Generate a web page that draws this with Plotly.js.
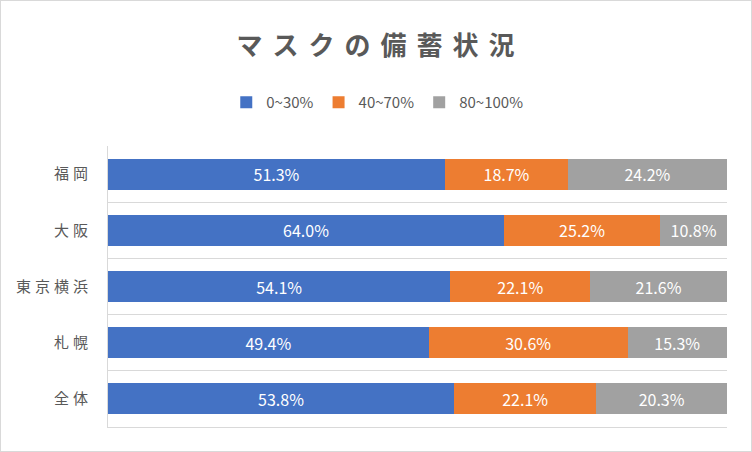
<!DOCTYPE html>
<html>
<head>
<meta charset="utf-8">
<script src="https://cdn.plot.ly/plotly-3.0.1.min.js"></script>
<style>
  body { margin: 0; background: #fff; }
  #chart { width: 750px; height: 450px; border: 1px solid #d9d9d9; }
  #chart .gtitle { letter-spacing: 10px; }
  #chart .ytick text { letter-spacing: 4px; }
</style>
</head>
<body>
<div id="chart"></div>
<script>
var cities = ['福岡', '大阪', '東京横浜', '札幌', '全体'];
var low = [51.3, 64.0, 54.1, 49.4, 53.8];
var mid = [18.7, 25.2, 22.1, 30.6, 22.1];
var high = [24.2, 10.8, 21.6, 15.3, 20.3];

var jp = '"Noto Sans CJK JP", "Noto Sans", sans-serif';

function makeTrace(aName, aValues, aColor, aPattern){
    var trace = {
        name: aName,
        y: cities,
        x: aValues,
        type: 'bar',
        orientation: 'h',
        text: aValues.map(function(v){ return v.toFixed(1) + '%'; }),
        textposition: 'inside',
        insidetextanchor: 'middle',
        textangle: 0,
        textfont: {color: '#ffffff', size: 16, family: jp},
        hoverinfo: 'skip',
        marker: {color: aColor, line: {width: 0}}
    };
    if (aPattern) {
        trace.marker.pattern = {shape: '.', fgcolor: '#959595', bgcolor: '#ababab', size: 2, solidity: 0.5};
    }
    return trace;
}

var data = [
    makeTrace('0~30%', low, '#4472C4', false),
    makeTrace('40~70%', mid, '#ED7D31', false),
    makeTrace('80~100%', high, '#A5A5A5', true)
];

var layout = {
    width: 750,
    height: 450,
    margin: {l: 107, r: 24, t: 145, b: 24},
    barmode: 'stack',
    barnorm: 'percent',
    bargap: 0.45,
    paper_bgcolor: '#ffffff',
    plot_bgcolor: '#ffffff',
    font: {family: jp, color: '#595959'},
    title: {
        text: '<b>マスクの備蓄状況</b>',
        font: {size: 26, color: '#595959', family: jp},
        x: 0.506, xanchor: 'center',
        y: 0.9, yanchor: 'middle'
    },
    showlegend: true,
    legend: {
        orientation: 'h',
        x: 0.435, xanchor: 'center',
        y: 1.155, yanchor: 'middle',
        font: {size: 15, color: '#595959', family: jp},
        traceorder: 'normal',
        itemwidth: 30
    },
    xaxis: {
        range: [0, 100],
        showgrid: false,
        zeroline: false,
        showticklabels: false,
        showline: true,
        linecolor: '#d9d9d9',
        side: 'bottom',
        fixedrange: true
    },
    yaxis: {
        autorange: 'reversed',
        tickson: 'boundaries',
        showgrid: true,
        gridcolor: '#d9d9d9',
        gridwidth: 1,
        ticks: '',
        showline: true,
        linecolor: '#d9d9d9',
        ticklabelstandoff: 12,
        tickfont: {size: 15, color: '#595959', family: jp},
        fixedrange: true
    }
};

Plotly.newPlot('chart', data, layout, {displayModeBar: false});
</script>
</body>
</html>
